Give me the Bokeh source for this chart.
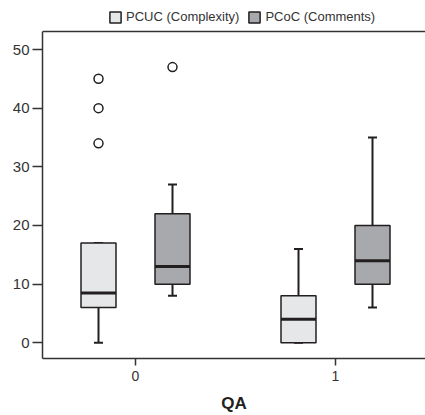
from bokeh.plotting import figure
from bokeh.models import ColumnDataSource, Legend, LegendItem, FixedTicker, Range1d, Span
from bokeh.transform import dodge
from bokeh.embed import file_html
from bokeh.resources import INLINE

# data
qa = [0, 1]
tick_labels = {0: "0", 1: "1"}
y_ticks = [0, 10, 20, 30, 40, 50]
pcuc_low = [0, 0]
pcuc_q1 = [6, 0]
pcuc_med = [8.5, 4]
pcuc_q3 = [17, 8]
pcuc_high = [17, 16]
pcuc_out_x = [0, 0, 0]
pcuc_out_y = [34, 40, 45]

pcoc_low = [8, 6]
pcoc_q1 = [10, 10]
pcoc_med = [13, 14]
pcoc_q3 = [22, 20]
pcoc_high = [27, 35]
pcoc_out_x = [0]
pcoc_out_y = [47]

LIGHT = "#e6e7e8"
DARK = "#a7a9ac"
EDGE = "#231f20"
FRAME = "#333333"
OFF = 0.185
BW = 0.175
CAP = 0.045
Y_LO, Y_HI = -2.68, 53.07          # extent of the drawn plot box
Y_TOP = Y_HI + 31 / 5.866          # extra room above the box for the legend

p = figure(width=425, height=415, output_backend="svg", toolbar_location=None,
           x_range=Range1d(-0.465, 1.45), y_range=Range1d(Y_LO, Y_TOP),
           min_border_left=42, min_border_right=0, min_border_top=0, min_border_bottom=57)
p.xgrid.visible = False
p.ygrid.visible = False
p.outline_line_color = None
p.background_fill_color = "white"
p.border_fill_color = "white"

items = []
for name, off, fill, lo, q1, med, q3, hi, ox, oy in [
    ("PCUC (Complexity)", -OFF, LIGHT, pcuc_low, pcuc_q1, pcuc_med, pcuc_q3, pcuc_high, pcuc_out_x, pcuc_out_y),
    ("PCoC (Comments)", OFF, DARK, pcoc_low, pcoc_q1, pcoc_med, pcoc_q3, pcoc_high, pcoc_out_x, pcoc_out_y),
]:
    src = ColumnDataSource(dict(qa=qa, lo=lo, q1=q1, med=med, q3=q3, hi=hi))
    p.segment(x0=dodge("qa", off), x1=dodge("qa", off), y0="q3", y1="hi", source=src,
              line_color=EDGE, line_width=2)
    p.segment(x0=dodge("qa", off), x1=dodge("qa", off), y0="lo", y1="q1", source=src,
              line_color=EDGE, line_width=2)
    p.segment(x0=dodge("qa", off - CAP / 2), x1=dodge("qa", off + CAP / 2), y0="hi", y1="hi",
              source=src, line_color=EDGE, line_width=2)
    p.segment(x0=dodge("qa", off - CAP / 2), x1=dodge("qa", off + CAP / 2), y0="lo", y1="lo",
              source=src, line_color=EDGE, line_width=2)
    r = p.vbar(x=dodge("qa", off), width=BW, bottom="q1", top="q3", source=src,
               fill_color=fill, line_color=EDGE, line_width=1.5)
    p.segment(x0=dodge("qa", off - BW / 2), x1=dodge("qa", off + BW / 2), y0="med", y1="med",
              source=src, line_color=EDGE, line_width=3)
    osrc = ColumnDataSource(dict(x=ox, y=oy))
    p.scatter(x=dodge("x", off), y="y", source=osrc, size=9, marker="circle",
              fill_color="white", line_color=EDGE, line_width=1.5)
    items.append(LegendItem(label=name, renderers=[r]))

legend = Legend(items=items, orientation="horizontal", location=(66, 334),
                glyph_width=14, glyph_height=14, label_text_font_size="13px",
                label_text_font="Liberation Sans", label_text_color="#333333",
                label_standoff=4, spacing=8, padding=1, margin=0,
                border_line_color=None, background_fill_alpha=0)
p.add_layout(legend, "center")

# top edge of the plot box
p.add_layout(Span(location=Y_HI, dimension="width", line_color=FRAME, line_width=1.5))

xa = p.below[0]
ya = p.left[0]
xa.ticker = FixedTicker(ticks=qa)
xa.major_label_overrides = tick_labels
ya.ticker = FixedTicker(ticks=y_ticks)
ya.bounds = (Y_LO, Y_HI)
for ax in (xa, ya):
    ax.axis_line_color = FRAME
    ax.axis_line_width = 1.5
    ax.major_tick_line_color = FRAME
    ax.major_tick_line_width = 1.5
    ax.major_tick_in = 0
    ax.minor_tick_line_color = None
    ax.major_label_text_font = "Liberation Sans"
    ax.major_label_text_color = "#333333"
ya.major_tick_out = 10
ya.major_label_text_font_size = "15px"
ya.major_label_standoff = 3
xa.major_tick_out = 7
xa.major_label_text_font_size = "14px"
xa.major_label_standoff = 5
xa.axis_label = "QA"
xa.axis_label_text_font = "Liberation Sans"
xa.axis_label_text_font_style = "bold"
xa.axis_label_text_font_size = "17px"
xa.axis_label_text_color = "#231f20"
xa.axis_label_standoff = 10

open("out.html", "w").write(file_html(p, INLINE))
